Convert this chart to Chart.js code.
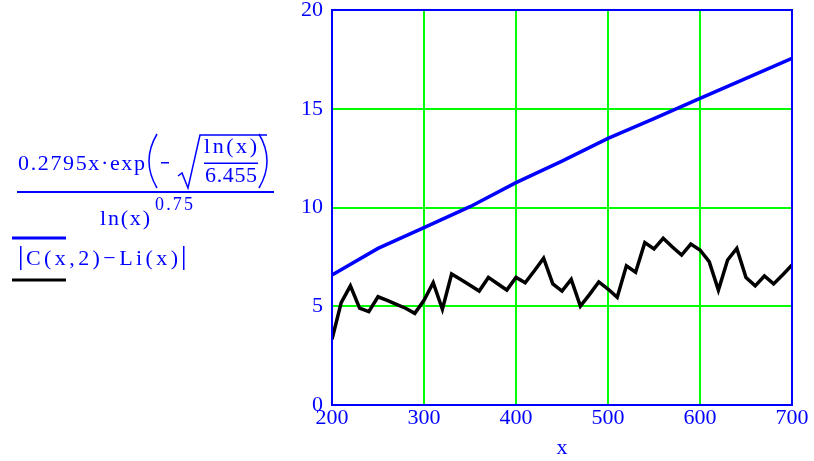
<!DOCTYPE html>
<html>
<head>
<meta charset="utf-8">
<script src="https://cdn.jsdelivr.net/npm/chart.js@4.4.1/dist/chart.umd.min.js"></script>
<style>
  body { margin: 0; background: #fff; }
  #wrap { position: relative; width: 814px; height: 461px; }
</style>
</head>
<body>
<div id="wrap"><canvas id="myChart" width="814" height="461"></canvas></div>
<script>
// values
const xTicks = [200, 300, 400, 500, 600, 700];
const yTicks = [0, 5, 10, 15, 20];

const blueX = [200, 250, 300, 350, 400, 450, 500, 550, 600, 650, 700];
const blueY = [6.58, 7.93, 8.98, 10.04, 11.26, 12.35, 13.5, 14.5, 15.53, 16.54, 17.55];

const blackX = [200, 210, 220, 230, 240, 250, 260, 270, 280, 290,
  300, 310, 320, 330, 340, 350, 360, 370, 380, 390,
  400, 410, 420, 430, 440, 450, 460, 470, 480, 490,
  500, 510, 520, 530, 540, 550, 560, 570, 580, 590,
  600, 610, 620, 630, 640, 650, 660, 670, 680, 690, 700];
const blackY = [3.33, 5.18, 6.03, 4.9, 4.73, 5.48, 5.3, 5.1, 4.9, 4.64,
  5.3, 6.19, 4.85, 6.63, 6.35, 6.06, 5.77, 6.46, 6.14, 5.82,
  6.46, 6.19, 6.8, 7.43, 6.13, 5.77, 6.36, 5.01, 5.6, 6.23,
  5.87, 5.45, 7.05, 6.72, 8.22, 7.9, 8.44, 8.0, 7.59, 8.15,
  7.85, 7.26, 5.82, 7.34, 7.93, 6.46, 6.03, 6.53, 6.13, 6.6, 7.09];

const BLUE = "#0000ff";
const FONT = '"Liberation Serif", "Times New Roman", serif';

function pts(xs, ys) {
  return xs.map((x, i) => ({ x: x, y: ys[i] }));
}

// spread characters over a given width
function spaced(ctx, text, x, y, width) {
  const chars = text.split("");
  let total = 0;
  chars.forEach((c) => (total += ctx.measureText(c).width));
  const gap = chars.length > 1 ? (width - total) / (chars.length - 1) : 0;
  let cx = x;
  chars.forEach((c) => {
    ctx.fillText(c, cx, y);
    cx += ctx.measureText(c).width + gap;
  });
}

const framePlugin = {
  id: "frame",
  afterDraw(chart) {
    const ctx = chart.ctx;
    const a = chart.chartArea;
    ctx.save();
    ctx.strokeStyle = BLUE;
    ctx.lineWidth = 2;
    ctx.strokeRect(a.left, a.top, a.right - a.left, a.bottom - a.top);

    // legend on the left
    ctx.fillStyle = BLUE;
    ctx.strokeStyle = BLUE;
    ctx.textBaseline = "alphabetic";
    ctx.font = "22px " + FONT;
    spaced(ctx, "0.2795x\u00b7exp", 18, 170, 127);

    ctx.lineWidth = 1.5;
    ctx.beginPath();
    ctx.moveTo(157, 134);
    ctx.quadraticCurveTo(141, 161, 157, 188);
    ctx.stroke();
    ctx.beginPath();
    ctx.moveTo(259, 134);
    ctx.quadraticCurveTo(275, 161, 259, 188);
    ctx.stroke();

    ctx.fillRect(161, 162, 8, 1.5);

    ctx.beginPath();
    ctx.moveTo(178, 176);
    ctx.lineTo(182, 173);
    ctx.lineTo(188, 188);
    ctx.lineTo(200, 135);
    ctx.lineTo(267, 135);
    ctx.stroke();

    spaced(ctx, "ln(x)", 204, 153, 53);
    ctx.fillRect(204, 162.5, 54, 1.5);
    spaced(ctx, "6.455", 205, 182, 52);

    ctx.fillRect(17, 191, 257, 2);
    spaced(ctx, "ln(x)", 100, 225, 50);
    ctx.font = "18px " + FONT;
    spaced(ctx, "0.75", 155, 210, 38);

    ctx.font = "22px " + FONT;
    ctx.fillRect(12, 236.5, 54, 3);
    ctx.fillRect(20, 246, 1.5, 24);
    ctx.fillRect(183, 246, 1.5, 24);
    spaced(ctx, "C(x,2)\u2212Li(x)", 26, 265, 152);
    ctx.fillStyle = "#000";
    ctx.fillRect(12, 278.5, 54, 3);
    ctx.restore();
  },
};

const ctx = document.getElementById("myChart");

new Chart(ctx, {
  type: "line",
  data: {
    datasets: [
      {
        label: "formula",
        data: pts(blueX, blueY),
        borderColor: BLUE,
        borderWidth: 3.5,
        pointRadius: 0,
        tension: 0,
        fill: false,
      },
      {
        label: "|C(x,2)-Li(x)|",
        data: pts(blackX, blackY),
        borderColor: "#000",
        borderWidth: 3.5,
        pointRadius: 0,
        tension: 0,
        fill: false,
      },
    ],
  },
  options: {
    responsive: false,
    animation: false,
    layout: { padding: { left: 0, right: 22, top: 10, bottom: 0 } },
    scales: {
      x: {
        type: "linear",
        min: 200,
        max: 700,
        afterBuildTicks: (s) => (s.ticks = xTicks.map((v) => ({ value: v }))),
        afterFit: (s) => {
          s.height = 56;
          s.paddingLeft = 0;
          s.paddingRight = 0;
        },
        ticks: { color: BLUE, font: { family: FONT, size: 22 }, padding: 0, maxRotation: 0 },
        grid: { color: "#00ff00", lineWidth: 2, drawTicks: false },
        border: { display: false },
        title: { display: true, text: "x", color: BLUE, font: { family: FONT, size: 22 }, padding: 0 },
      },
      y: {
        min: 0,
        max: 20,
        afterBuildTicks: (s) => (s.ticks = yTicks.map((v) => ({ value: v }))),
        afterFit: (s) => {
          s.width = 332;
          s.paddingTop = 0;
          s.paddingBottom = 0;
        },
        ticks: { color: BLUE, font: { family: FONT, size: 22 }, padding: 9 },
        grid: { color: "#00ff00", lineWidth: 2, drawTicks: false },
        border: { display: false },
      },
    },
    plugins: {
      legend: { display: false },
      tooltip: { enabled: false },
    },
  },
  plugins: [framePlugin],
});
</script>
</body>
</html>
